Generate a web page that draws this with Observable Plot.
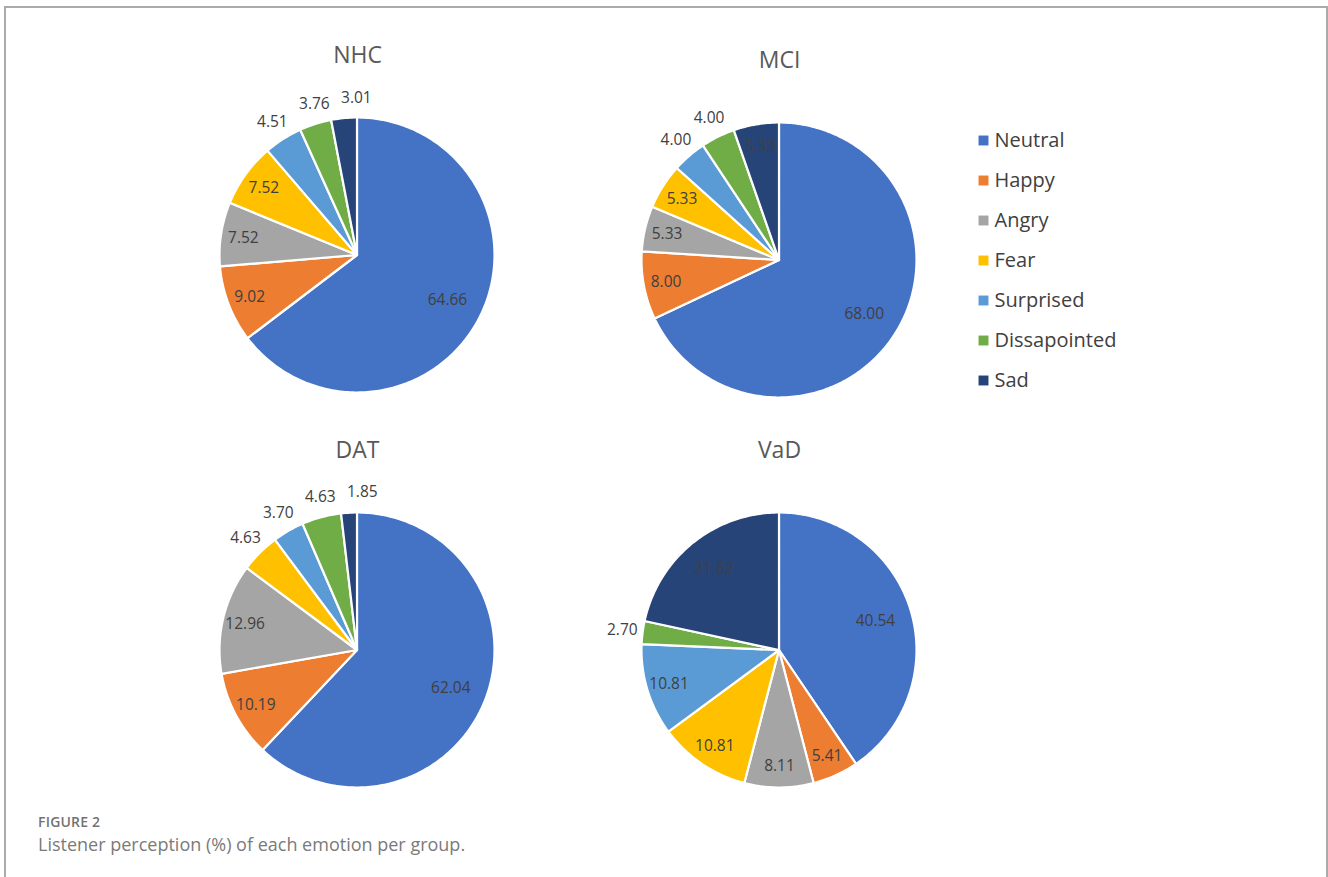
<!DOCTYPE html>
<html>
<head>
<meta charset="utf-8">
<script src="https://cdn.jsdelivr.net/npm/d3@7"></script>
<script src="https://cdn.jsdelivr.net/npm/@observablehq/plot@0.6"></script>
<style>
  html, body { margin: 0; padding: 0; background: #fff; }
  #root { position: relative; width: 1328px; height: 877px; overflow: hidden; font-family: "Open Sans", sans-serif; }
  #frame { position: absolute; left: 4px; top: 6px; width: 1324px; height: 900px; box-sizing: border-box;
           border: 2px solid #ababab; border-bottom: none; }
  .pie { position: absolute; }
  .pie svg { background: transparent !important; overflow: visible; }
  #fig { position: absolute; left: 38px; top: 812px; font-size: 14px; font-weight: 600; color: #737373; letter-spacing: 0.2px; }
  #cap { position: absolute; left: 38px; top: 832px; font-size: 18px; color: #7a7a7a; }
</style>
</head>
<body>
<div id="root">
  <div id="frame"></div>
  <div id="fig">FIGURE 2</div>
  <div id="cap">Listener perception (%) of each emotion per group.</div>
</div>
<script>
// ---- data ----
const emotions = ["Neutral", "Happy", "Angry", "Fear", "Surprised", "Dissapointed", "Sad"];
const colors = ["#4472C4", "#ED7D31", "#A5A5A5", "#FFC000", "#5B9BD5", "#70AD47", "#264478"];
const groups = ["NHC", "MCI", "DAT", "VaD"];
const nhcValues = [64.66, 9.02, 7.52, 7.52, 4.51, 3.76, 3.01];
const mciValues = [68.00, 8.00, 5.33, 5.33, 4.00, 4.00, 5.33];
const datValues = [62.04, 10.19, 12.96, 4.63, 3.70, 4.63, 1.85];
const vadValues = [40.54, 5.41, 8.11, 10.81, 10.81, 2.70, 21.62];
const groupValues = [nhcValues, mciValues, datValues, vadValues];

// ---- layout ----
const SIZE = 440;          // plot box
const R = 137.5;           // pie radius in px
const S = (SIZE / 2) / R;  // half-domain in pie units
const pieCenters = [[357, 255], [779, 260], [357, 650], [779, 650]];
const labelFont = "'Open Sans', sans-serif";

function makeSlices(values) {
  const total = d3.sum(values);
  let acc = 0;
  return values.map((v, i) => {
    const a0 = acc / total * 2 * Math.PI;
    acc += v;
    const a1 = acc / total * 2 * Math.PI;
    return {emotion: emotions[i], value: v, a0, a1, mid: (a0 + a1) / 2};
  });
}

function arcPoints(slices) {
  const pts = [];
  for (const s of slices) {
    const n = Math.max(2, Math.ceil((s.a1 - s.a0) / (Math.PI / 180)));
    for (let k = 0; k <= n; k++) {
      const a = s.a0 + (s.a1 - s.a0) * k / n;
      pts.push({emotion: s.emotion, px: Math.sin(a), py: Math.cos(a), cx: 0, cy: 0});
    }
  }
  return pts;
}

function labelPositions(slices) {
  const labels = slices.map(s => {
    const dx = Math.sin(s.mid), dy = Math.cos(s.mid);
    const outside = s.value < 5;
    let r;
    if (outside) r = 1 + 21 / R;
    else if (s.value >= 30) r = 0.73;
    else if (s.value >= 15) r = 0.76;
    else r = 0.84;
    return {text: s.value.toFixed(2), x: dx * r, y: dy * r, outside};
  });
  // simple collision avoidance for outside labels (sweep left to right)
  const outs = labels.filter(d => d.outside).sort((a, b) => a.x - b.x);
  const w = 42 / R, h = 19 / R;
  for (let i = 1; i < outs.length; i++) {
    const p = outs[i - 1], c = outs[i];
    if (Math.abs(c.y - p.y) < h && c.x - p.x < w) c.x = p.x + w;
  }
  return labels;
}

const root = document.getElementById("root");

groups.forEach((g, gi) => {
  const slices = makeSlices(groupValues[gi]);
  const pts = arcPoints(slices);
  const labels = labelPositions(slices);
  const chart = Plot.plot({
    width: SIZE, height: SIZE,
    margin: 0,
    x: {domain: [-S, S], axis: null},
    y: {domain: [-S, S], axis: null},
    color: {domain: emotions, range: colors},
    style: {background: "transparent", overflow: "visible"},
    marks: [
      Plot.area(pts, {x1: "cx", y1: "cy", x2: "px", y2: "py", z: "emotion", fill: "emotion",
        stroke: "white", strokeWidth: 2.2, strokeLinejoin: "round", curve: "linear"}),
      Plot.text(labels, {x: "x", y: "y", text: "text", fill: "#404040",
        fontSize: 15.5, fontFamily: labelFont}),
      Plot.text([g], {frameAnchor: "top", lineAnchor: "middle", dy: 20, text: d => d, fill: "#595959",
        fontSize: 23, fontFamily: labelFont})
    ]
  });
  const div = document.createElement("div");
  div.className = "pie";
  div.style.left = (pieCenters[gi][0] - SIZE / 2) + "px";
  div.style.top = (pieCenters[gi][1] - SIZE / 2) + "px";
  div.appendChild(chart);
  root.appendChild(div);
});

// ---- legend ----
const legend = Plot.plot({
  width: 180, height: 282,
  margin: 0,
  x: {domain: [0, 180], range: [0, 180], axis: null},
  y: {type: "point", domain: emotions, range: [20, 261], padding: 0, axis: null},
  color: {domain: emotions, range: colors},
  style: {background: "transparent", overflow: "visible"},
  marks: [
    Plot.dot(emotions, {x: () => 23, y: d => d, symbol: "square", r: 5.6, fill: d => d, stroke: null}),
    Plot.text(emotions, {x: () => 34, y: d => d, text: d => d, textAnchor: "start", fill: "#404040",
      fontSize: 20, fontFamily: labelFont})
  ]
});
const ldiv = document.createElement("div");
ldiv.className = "pie";
ldiv.style.left = "960px";
ldiv.style.top = "119px";
ldiv.appendChild(legend);
root.appendChild(ldiv);
</script>
</body>
</html>
